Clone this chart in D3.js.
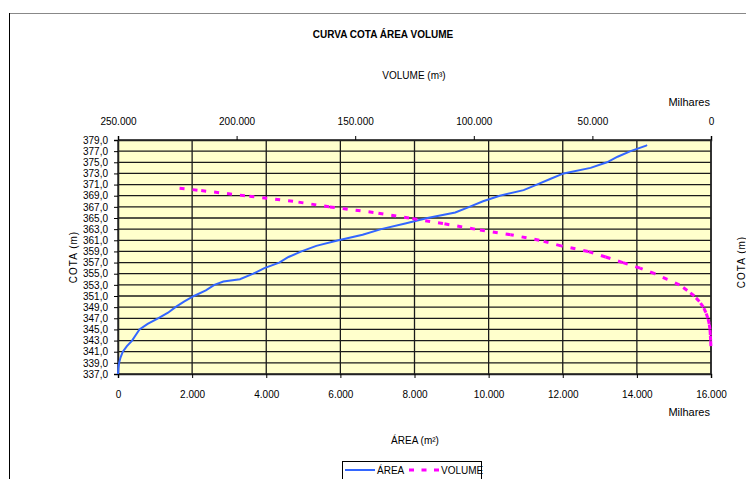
<!DOCTYPE html>
<html><head><meta charset="utf-8">
<script src="https://cdn.jsdelivr.net/npm/d3@7"></script>
<style>
html,body{margin:0;padding:0;background:#fff;}
text{font-family:"Liberation Sans",Arial,sans-serif;fill:#000;}
</style></head>
<body>
<svg id="c" width="746" height="479"></svg>
<script>
// ---- data ----
const title = "CURVA COTA ÁREA VOLUME";
const cotaTicks = d3.range(337, 380, 2);
const areaTicks = [0, 2000, 4000, 6000, 8000, 10000, 12000, 14000, 16000];
const volumeTicks = [250000, 200000, 150000, 100000, 50000, 0];

const areaCota = [337,338,339,340,341,342,343,344,345,346,347,348,349,350,351,352,353,353.6,354,355,356,357,358,359,360,361,362,363,364,365,366,367,368,369,370,371,372,373,374,375,376,377,378,378.1];
const areaValues = [0,10,30,70,130,240,380,480,580,800,1080,1350,1550,1780,2050,2370,2600,2844,3290,3650,3950,4350,4600,4950,5350,5950,6600,7100,7750,8350,9100,9480,9850,10300,10944,11300,11660,12024,12750,13194,13480,13830,14250,14274];

const volumeCota = [342,343,344,345,346,347,348,349,350,351,352,353,354,355,356,357,358,359,360,361,362,363,364,365,366,367,368,369,370,370.4];
const volumeValues = [50,150,280,430,750,1300,2150,3200,4900,7050,10000,13300,18400,23700,29900,37200,44400,51800,63200,72400,84500,99500,113000,127300,142300,161000,176200,196500,216500,225600];

// ---- layout ----
const svg = d3.select("#c");
const L = 118, R = 711, T = 140, B = 374;
const fmtNum = d3.formatLocale({decimal:",", thousands:".", grouping:[3], currency:["",""]});
const fmtK = v => fmtNum.format(",.0f")(v);
const fmtC = v => fmtNum.format(".1f")(v);

const y = d3.scaleLinear().domain([337, 379]).range([B, T]);
const x = d3.scaleLinear().domain([0, 16000]).range([L, R]);
const xv = d3.scaleLinear().domain([250000, 0]).range([L, R]);

// outer chart border
svg.append("line").attr("x1",9.5).attr("x2",746).attr("y1",13.5).attr("y2",13.5).attr("stroke","#888").attr("stroke-width",1);
svg.append("line").attr("x1",9.5).attr("x2",9.5).attr("y1",13).attr("y2",479).attr("stroke","#000").attr("stroke-width",1);

// title
svg.append("text").attr("x",383).attr("y",38).attr("text-anchor","middle")
  .attr("font-size",10).attr("font-weight","bold").text(title);

// plot background
svg.append("rect").attr("x",L).attr("y",T).attr("width",R-L).attr("height",B-T).attr("fill","#FFFFCC");

// horizontal gridlines
svg.append("g").selectAll("line").data(cotaTicks).join("line")
  .attr("x1",L).attr("x2",R).attr("y1",d=>y(d)).attr("y2",d=>y(d))
  .attr("stroke","#1a1a1a").attr("stroke-width",1.3);
// vertical gridlines
svg.append("g").selectAll("line").data(areaTicks).join("line")
  .attr("x1",d=>x(d)).attr("x2",d=>x(d)).attr("y1",T).attr("y2",B)
  .attr("stroke","#1a1a1a").attr("stroke-width",1.3);

// axes
const yAxis = d3.axisLeft(y).tickValues(cotaTicks).tickFormat(fmtC).tickSize(4).tickPadding(6);
const gy = svg.append("g").attr("transform",`translate(${L},0)`).call(yAxis);
const xAxis = d3.axisBottom(x).tickValues(areaTicks).tickFormat(fmtK).tickSize(4).tickPadding(13);
const gx = svg.append("g").attr("transform",`translate(0,${B})`).call(xAxis);
const xvAxis = d3.axisTop(xv).tickValues(volumeTicks).tickFormat(fmtK).tickSize(4).tickPadding(11);
const gxv = svg.append("g").attr("transform",`translate(0,${T})`).call(xvAxis);
[gy,gx,gxv].forEach(g=>{
  g.selectAll("text").attr("font-size",10).attr("font-family","'Liberation Sans',Arial,sans-serif").attr("fill","#000");
  g.selectAll("line").attr("stroke","#000");
  g.select(".domain").attr("stroke","#222").attr("stroke-width",1.5);
});
// right plot border
svg.append("line").attr("x1",R).attr("x2",R).attr("y1",T).attr("y2",B).attr("stroke","#222").attr("stroke-width",1.5);

// axis titles
svg.append("text").attr("x",414).attr("y",79).attr("text-anchor","middle").attr("font-size",10).text("VOLUME (m³)");
svg.append("text").attr("x",710).attr("y",106).attr("text-anchor","end").attr("font-size",11).text("Milhares");
svg.append("text").attr("x",710).attr("y",416).attr("text-anchor","end").attr("font-size",11).text("Milhares");
svg.append("text").attr("x",415).attr("y",444).attr("text-anchor","middle").attr("font-size",10).text("ÁREA (m²)");
svg.append("text").attr("transform",`translate(77,${(T+B)/2}) rotate(-90)`).attr("text-anchor","middle").attr("font-size",10).attr("letter-spacing",1).text("COTA (m)");
svg.append("text").attr("transform",`translate(745,262) rotate(-90)`).attr("text-anchor","middle").attr("font-size",10).attr("letter-spacing",1).text("COTA (m)");

// area line
const areaData = areaCota.map((c,i)=>({c, v:areaValues[i]}));
svg.append("path").datum(areaData)
  .attr("d", d3.line().x(d=>x(d.v)).y(d=>y(d.c)))
  .attr("fill","none").attr("stroke","#3366FF").attr("stroke-width",2);

// volume line: dash pattern restarts on each segment
const volData = volumeCota.map((c,i)=>({c, v:volumeValues[i]}));
const segs = d3.pairs(volData);
svg.append("g").selectAll("path").data(segs).join("path")
  .attr("d", d => d3.line().x(p=>xv(p.v)).y(p=>y(p.c))(d))
  .attr("fill","none").attr("stroke","#FF00FF").attr("stroke-width",3)
  .attr("stroke-dasharray","5,8");

// legend
const lg = svg.append("g");
lg.append("rect").attr("x",342.5).attr("y",461.5).attr("width",139).attr("height",30)
  .attr("fill","#fff").attr("stroke","#000").attr("stroke-width",1);
lg.append("line").attr("x1",345).attr("x2",375).attr("y1",470).attr("y2",470).attr("stroke","#3366FF").attr("stroke-width",2);
lg.append("text").attr("x",377).attr("y",474).attr("font-size",10).text("ÁREA");
lg.append("line").attr("x1",409).attr("x2",439).attr("y1",470).attr("y2",470).attr("stroke","#FF00FF").attr("stroke-width",3).attr("stroke-dasharray","5,7.5");
lg.append("text").attr("x",441).attr("y",474).attr("font-size",10).text("VOLUME");
</script>
</body></html>
